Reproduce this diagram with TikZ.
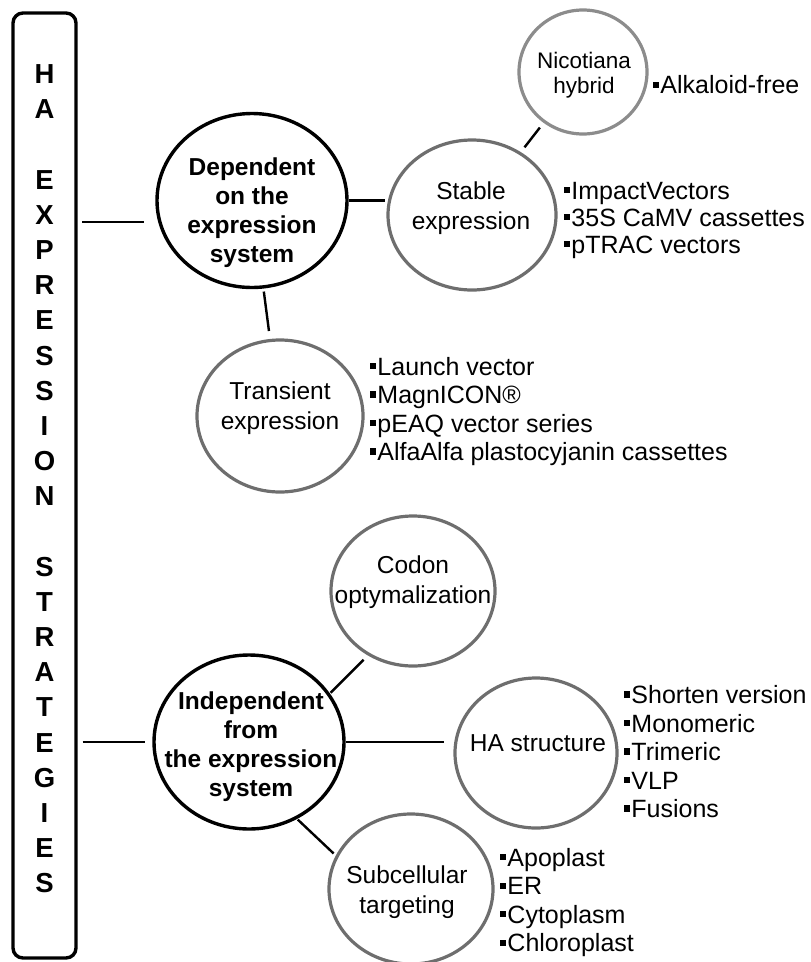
\documentclass[tikz,border=0pt]{standalone}
\usepackage{fontspec}
\setmainfont{Liberation Sans}
\usetikzlibrary{shapes.geometric}
\definecolor{cgray}{HTML}{6E6E6E}
\definecolor{lgray}{HTML}{8C8C8C}
\newcommand{\bsq}{\raisebox{0.24em}{\rule{0.25em}{0.25em}}\hspace{0.04em}}
\begin{document}
\begin{tikzpicture}[x=1pt,y=-1pt,
  bubble/.style={ellipse, draw=cgray, line width=3.2pt, inner sep=0pt},
  mainbubble/.style={ellipse, draw=black, line width=3.4pt, inner sep=0pt},
  conn/.style={draw=black, line width=2.4pt},
  vletter/.style={font=\fontsize{27.5}{30}\bfseries\selectfont, anchor=base, inner sep=0pt},
  ctext/.style={align=center, font=\fontsize{24.5}{30}\selectfont, inner sep=0pt},
  btext/.style={align=center, font=\fontsize{24.5}{29}\bfseries\selectfont, inner sep=0pt},
  blist/.style={align=left, anchor=west, font=\fontsize{25}{28.5}\selectfont, inner sep=0pt},
]
\useasboundingbox (0,0) rectangle (811,962);

% left title box
\node[draw, line width=3.4pt, rounded corners=10pt, minimum width=63pt, minimum height=945pt, inner sep=0pt] (box) at (44.5,485.5) {};
\foreach \c [count=\i from 0] in {H,A,,E,X,P,R,E,S,S,I,O,N,,S,T,R,A,T,E,G,I,E,S}
  \node[vletter] (v\i) at (44.5, {74+\i*35.17+9.8}) {\c};

% upper branch
\node[mainbubble, minimum width=190pt, minimum height=174pt] (dep) at (252,200.5) {};
\node[btext] (dept) at (252,213) {Dependent\\on the\\expression\\system};
\node[bubble, minimum width=168pt, minimum height=150pt] (stable) at (472,215) {};
\node[ctext] (stablet) at (471,208) {Stable\\expression};
\node[bubble, draw=lgray, minimum width=128pt, minimum height=124pt] (nico) at (583,72) {};
\node[ctext, font=\fontsize{22.5}{24.5}\selectfont] (nicot) at (584,75) {Nicotiana\\hybrid};
\node[bubble, minimum width=166pt, minimum height=152pt] (trans) at (280,416) {};
\node[ctext] (transt) at (280,408) {Transient\\expression};

% lower branch
\node[mainbubble, minimum width=190pt, minimum height=174pt] (indep) at (249,742) {};
\node[btext] (indept) at (251,747) {Independent\\from\\the expression\\system};
\node[bubble, minimum width=164pt, minimum height=150pt] (codon) at (413,591) {};
\node[ctext] (codont) at (413,582) {Codon\\optymalization};
\node[bubble, minimum width=162pt, minimum height=150pt] (ha) at (536,753) {};
\node[ctext] (hat) at (538,743) {HA structure};
\node[bubble, minimum width=164pt, minimum height=150pt] (sub) at (411,889) {};
\node[ctext] (subt) at (407,892) {Subcellular\\targeting};

% bullet lists
\node[blist] (nicol) at (653,85) {\bsq Alkaloid-free};
\node[blist, font=\fontsize{25}{27}\selectfont] (stablel) at (564,220) {\bsq ImpactVectors\\\bsq 35S CaMV cassettes\\\bsq pTRAC vectors};
\node[blist] (transl) at (370,411.5) {\bsq Launch vector\\\bsq MagnICON®\\\bsq pEAQ vector series\\\bsq AlfaAlfa plastocyjanin cassettes};
\node[blist] (hal) at (624,751.6) {\bsq Shorten version\\\bsq Monomeric\\\bsq Trimeric\\\bsq VLP\\\bsq Fusions};
\node[blist] (subl) at (500,902.75) {\bsq Apoplast\\\bsq ER\\\bsq Cytoplasm\\\bsq Chloroplast};

% connectors
\draw[conn, shorten <=4.5pt, shorten >=14pt] (box.east |- dep.193) -- (dep.193);
\draw[conn, shorten >=1pt] (dep.east) -- (stable.west |- dep.east);
\draw[conn, shorten <=6pt, shorten >=6pt] (stable) -- (nico);
\draw[conn, shorten <=3pt, shorten >=8pt] (dep) -- (trans);
\draw[conn, shorten <=5pt, shorten >=7pt] (box.east |- indep.west) -- (indep.west);
\draw[conn, shorten <=1pt, shorten >=6pt] (indep.31) -- (codon.235);
\draw[conn, shorten >=9pt] (indep.east) -- (indep.east -| ha.west);
\draw[conn, shorten <=1pt, shorten >=3pt] (indep.302) -- (sub.156);
\end{tikzpicture}
\end{document}
